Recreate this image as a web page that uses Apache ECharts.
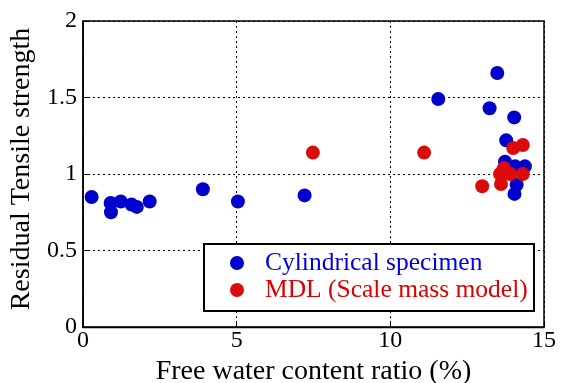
<!DOCTYPE html>
<html><head><meta charset="utf-8">
<script src="https://cdn.jsdelivr.net/npm/echarts@6/dist/echarts.min.js"></script>
<style>html,body{margin:0;padding:0;background:#fff}#c{width:561px;height:383px}</style>
</head><body><div id="c"></div>
<script>
var cylX = [0.28, 0.90, 0.91, 1.23, 1.58, 1.75, 2.17, 3.90, 5.04, 7.21, 11.56, 13.23, 13.48, 14.03, 13.77, 13.73, 14.06, 14.38, 14.11, 14.04];
var cylY = [0.85, 0.81, 0.75, 0.82, 0.80, 0.785, 0.82, 0.90, 0.82, 0.86, 1.49, 1.43, 1.66, 1.37, 1.22, 1.08, 1.05, 1.05, 0.93, 0.87];
var mdlX = [7.48, 11.10, 14.00, 14.31, 13.70, 13.67, 13.57, 13.90, 14.31, 13.60, 12.99];
var mdlY = [1.14, 1.14, 1.17, 1.19, 1.04, 1.025, 1.00, 1.00, 1.00, 0.935, 0.92];
var xTicks = [0, 5, 10, 15];
var yTicks = [0, 0.5, 1, 1.5, 2];

function pairs(xs, ys){ return xs.map(function(x,i){ return [x, ys[i]]; }); }
var font = 'Liberation Serif';
var chart = echarts.init(document.getElementById('c'), null, {renderer:'canvas'});
chart.setOption({
  animation:false,
  grid:{left:83, right:17, top:21, bottom:56, show:false, containLabel:false, outerBoundsMode:'none'},
  xAxis:{type:'value', min:xTicks[0], max:xTicks[xTicks.length-1], interval:5,
    name:'Free water content ratio (%)', nameLocation:'middle', nameGap:31,
    nameTextStyle:{fontFamily:font, fontSize:28, color:'#000'},
    axisLine:{show:true, onZero:false, lineStyle:{color:'#000', width:1.5}},
    axisTick:{show:true, inside:true, length:5, lineStyle:{color:'#000'}},
    axisLabel:{fontFamily:font, fontSize:24, color:'#000', margin:2},
    splitLine:{show:true, lineStyle:{color:'#000', type:[2,3], width:1}}
  },
  yAxis:{type:'value', min:yTicks[0], max:yTicks[yTicks.length-1], interval:0.5,
    name:'Residual Tensile strength', nameLocation:'middle', nameGap:38,
    nameTextStyle:{fontFamily:font, fontSize:28, color:'#000', padding:[0,0,0,10]},
    axisLine:{show:true, onZero:false, lineStyle:{color:'#000', width:1.5}},
    axisTick:{show:true, inside:true, length:5, lineStyle:{color:'#000'}},
    axisLabel:{fontFamily:font, fontSize:24, color:'#000', margin:6},
    splitLine:{show:true, lineStyle:{color:'#000', type:[2,3], width:1}}
  },
  graphic:[
    {type:'rect', shape:{x:83, y:21, width:461, height:306.5}, style:{fill:'none', stroke:'#000', lineWidth:1.5}, z:50, silent:true},
    {type:'rect', shape:{x:204, y:244, width:330, height:67}, style:{fill:'#fff', stroke:'#000', lineWidth:2}, z:90, silent:true}
  ],
  legend:{show:true, orient:'vertical', left:225, top:245, itemGap:1, itemWidth:14, itemHeight:14, z:100,
    textStyle:{fontFamily:font, fontSize:25.5, padding:[0,0,0,16]},
    data:[{name:'Cylindrical specimen', icon:'circle', textStyle:{color:'#0000dd'}},
          {name:'MDL (Scale mass model)', icon:'circle', textStyle:{color:'#dd0000'}}]
  },
  series:[
    {name:'Cylindrical specimen', type:'scatter', symbolSize:14, itemStyle:{color:'#0000cc', opacity:1}, data:pairs(cylX, cylY), z:3},
    {name:'MDL (Scale mass model)', type:'scatter', symbolSize:14, itemStyle:{color:'#dd0a0a', opacity:1}, data:pairs(mdlX, mdlY), z:4}
  ]
});
</script></body></html>
